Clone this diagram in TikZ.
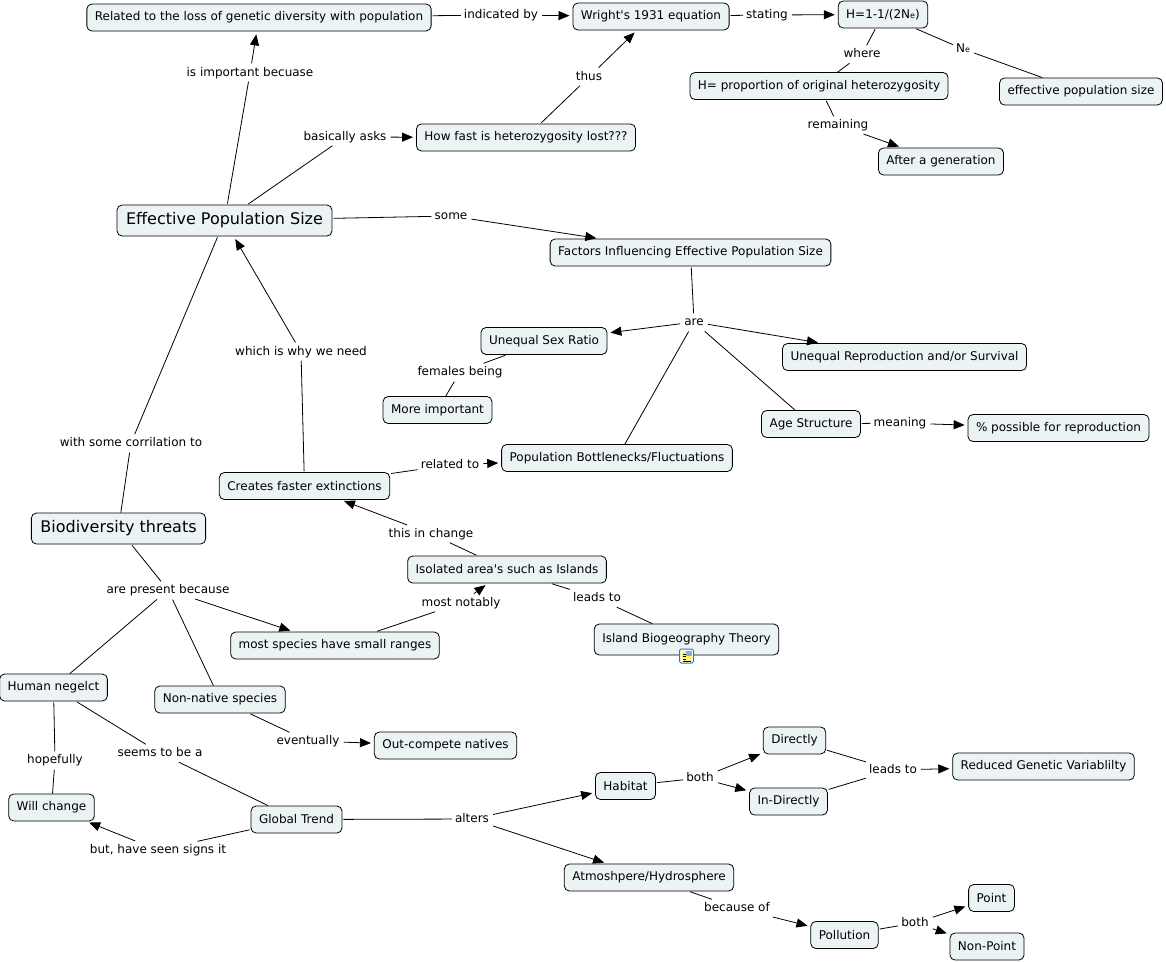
\documentclass[tikz,border=0pt]{standalone}
\usepackage{fontspec}
\setmainfont{DejaVu Sans}
\usetikzlibrary{arrows.meta}
\definecolor{cmapfill}{RGB}{236,243,245}
\definecolor{iconblue}{RGB}{60,110,200}
\newcommand\nesub{{\fontsize{8}{8}\selectfont e}}
\begin{document}
\begin{tikzpicture}[x=1pt,y=-1pt,
  concept/.style={draw, fill=cmapfill, rounded corners=5pt, line width=0.8pt, font=\fontsize{12}{14}\selectfont, minimum height=27pt, inner xsep=8pt, inner ysep=2pt},
  bigconcept/.style={concept, font=\fontsize{16}{18}\selectfont, minimum height=31pt, inner xsep=9pt},
  linkphrase/.style={font=\fontsize{12}{14}\selectfont, inner sep=3pt, text height=8.5pt, text depth=2.5pt},
  link/.style={line width=0.8pt, shorten <=1pt},
  linkarrow/.style={link, -{Triangle[length=11pt,width=9pt]}, shorten >=3pt}]
\useasboundingbox (0,0) rectangle (1166,961);
\fill[white] (0,0) rectangle (1166,961);
\node[concept] (rel) at (259,17.5) {Related to the loss of genetic diversity with population};
\node[concept] (wright) at (651,16.5) {Wright\textquotesingle s 1931 equation};
\node[concept] (hform) at (883,14.5) {H=1-1/(2N\nesub)};
\node[concept] (hprop) at (819,86) {H= proportion of original heterozygosity};
\node[concept] (effsize) at (1081,91.5) {effective population size};
\node[concept] (aftergen) at (941,161.5) {After a generation};
\node[concept] (howfast) at (526,137.5) {How fast is heterozygosity lost???};
\node[bigconcept] (eps) at (224.5,220.5) {Effective Population Size};
\node[concept] (factors) at (690.5,252.5) {Factors Influencing Effective Population Size};
\node[concept] (usr) at (544,341) {Unequal Sex Ratio};
\node[concept] (urs) at (904.5,357) {Unequal Reproduction and/or Survival};
\node[concept] (moreimp) at (437.5,410) {More important};
\node[concept] (agestr) at (811,424) {Age Structure};
\node[concept] (pctrep) at (1058.5,428) {\% possible for reproduction};
\node[concept] (bottle) at (617,458) {Population Bottlenecks/Fluctuations};
\node[concept] (cfe) at (304.5,486) {Creates faster extinctions};
\node[bigconcept] (biothr) at (118.5,528.5) {Biodiversity threats};
\node[concept] (isol) at (507,569.5) {Isolated area\textquotesingle s such as Islands};
\node[concept] (msr) at (335,645.5) {most species have small ranges};
\node[concept, minimum height=31pt] (ibt) at (686.5,639.5) {Island Biogeography Theory};
\node[concept] (human) at (53.5,687.5) {Human negelct};
\node[concept] (nonnat) at (220,699.5) {Non-native species};
\node[concept] (outcomp) at (445.5,745.5) {Out-compete natives};
\node[concept] (willch) at (51.5,807.5) {Will change};
\node[concept] (global) at (296.5,819.5) {Global Trend};
\node[concept] (habitat) at (625.5,786) {Habitat};
\node[concept] (directly) at (794.5,740.5) {Directly};
\node[concept] (indirectly) at (788.5,801.5) {In-Directly};
\node[concept] (reduced) at (1043.5,766.5) {Reduced Genetic Variablilty};
\node[concept] (atmo) at (649,877.5) {Atmoshpere/Hydrosphere};
\node[concept] (point) at (991.5,898) {Point};
\node[concept] (pollution) at (844.5,935) {Pollution};
\node[concept] (nonpoint) at (987,946.5) {Non-Point};
\node[draw=iconblue, line width=1pt, fill=white, rounded corners=1.5pt, minimum size=14pt, inner sep=0pt] (ibticon) at (686.5,656) {};
\fill[yellow!60] (681.5,651) rectangle (691.5,661.5);
\fill[iconblue!60] (686,651) rectangle (691.5,655.5);
\foreach \k in {654,656.5,659} \draw[line width=0.6pt] (682.5,\k) -- (686,\k);
\draw[line width=0.6pt] (682.5,661) -- (690.5,661);
\node[linkphrase] (lindic) at (501,15) {indicated by};
\node[linkphrase] (lstat) at (767,15) {stating};
\node[linkphrase] (lwhere) at (862,54) {where};
\node[linkphrase] (lne) at (963,49) {N\nesub};
\node[linkphrase] (lremain) at (838,125) {remaining};
\node[linkphrase] (lthus) at (589,77) {thus};
\node[linkphrase] (limport) at (250,73) {is important becuase};
\node[linkphrase] (lasks) at (345,137) {basically asks};
\node[linkphrase] (lsome) at (451,216) {some};
\node[linkphrase] (lare) at (694,322) {are};
\node[linkphrase] (lfem) at (460,372) {females being};
\node[linkphrase] (lmean) at (900,423) {meaning};
\node[linkphrase] (lrel) at (450,465) {related to};
\node[linkphrase] (lneed) at (301,352) {which is why we need};
\node[linkphrase] (lcorr) at (131,443) {with some corrilation to};
\node[linkphrase] (lchange) at (431,534) {this in change};
\node[linkphrase] (lnotab) at (461,603) {most notably};
\node[linkphrase] (lleads) at (597,598) {leads to};
\node[linkphrase] (lpresent) at (168,590) {are present because};
\node[linkphrase] (levent) at (308,741) {eventually};
\node[linkphrase] (lhope) at (55,760) {hopefully};
\node[linkphrase] (lseems) at (160,753) {seems to be a};
\node[linkphrase] (lsigns) at (158,850) {but, have seen signs it};
\node[linkphrase] (lalters) at (472,819) {alters};
\node[linkphrase] (lboth) at (700,778) {both};
\node[linkphrase] (lleadsb) at (893,770) {leads to};
\node[linkphrase] (lbecause) at (737,908) {because of};
\node[linkphrase] (lbothb) at (915,923) {both};
\foreach \a/\b in {rel/lindic, wright/lstat, hform/lwhere, lwhere/hprop, hform/lne, lne/effsize, hprop/lremain, howfast/lthus, eps/limport, eps/lasks, eps/lsome, factors/lare, lare/bottle, lare/agestr, usr/lfem, lfem/moreimp, agestr/lmean, cfe/lrel, cfe/lneed, eps/lcorr, lcorr/biothr, isol/lchange, msr/lnotab, isol/lleads, lleads/ibt, biothr/lpresent, lpresent/human, lpresent/nonnat, nonnat/levent, human/lhope, lhope/willch, human/lseems, lseems/global, global/lsigns, global/lalters, habitat/lboth, directly/lleadsb, indirectly/lleadsb, atmo/lbecause, pollution/lbothb}
  \draw[link] (\a) -- (\b);
\foreach \a/\b in {lindic/wright, lstat/hform, lremain/aftergen, lthus/wright, limport/rel, lasks/howfast, lsome/factors, lare/usr, lare/urs, lmean/pctrep, lrel/bottle, lneed/eps, lchange/cfe, lnotab/isol, lpresent/msr, levent/outcomp, lsigns/willch, lalters/habitat, lalters/atmo, lboth/directly, lboth/indirectly, lleadsb/reduced, lbecause/pollution, lbothb/point, lbothb/nonpoint}
  \draw[linkarrow] (\a) -- (\b);
\end{tikzpicture}
\end{document}
